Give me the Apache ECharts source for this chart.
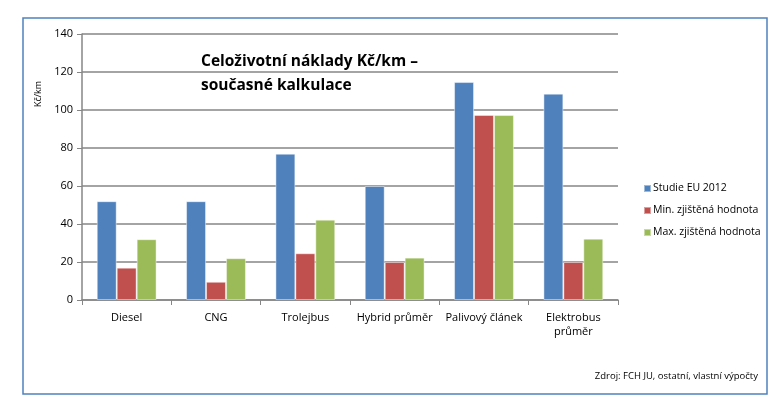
<!DOCTYPE html>
<html><head><meta charset="utf-8">
<script src="https://cdn.jsdelivr.net/npm/echarts@6/dist/echarts.min.js"></script>
<style>html,body{margin:0;padding:0;background:#fff}#c{width:784px;height:419px}</style>
</head><body><div id="c"></div>
<script>
const categories = ['Diesel', 'CNG', 'Trolejbus', 'Hybrid průměr', 'Palivový článek', 'Elektrobus\nprůměr'];
const seriesNames = ['Studie EU 2012', 'Min. zjištěná hodnota', 'Max. zjištěná hodnota'];
const studieEU = [52, 52, 77, 60, 114.7, 108.6];
const minHodnota = [17, 9.6, 24.6, 20, 97.4, 20];
const maxHodnota = [32, 22, 42.3, 22.3, 97.4, 32.3];
const yTicks = [0, 20, 40, 60, 80, 100, 120, 140];
const colors = ['#4F81BD', '#C0504D', '#9BBB59'];
const font = 'Open Sans';

const chart = echarts.init(document.getElementById('c'));
const values = [studieEU, minHodnota, maxHodnota];
chart.setOption({
  animation: false,
  textStyle: { fontFamily: font },
  grid: { left: 82, right: 166, top: 34, bottom: 119 },
  title: {
    text: 'Celoživotní náklady Kč/km –\nsoučasné kalkulace',
    left: 196, top: 45,
    textStyle: { fontFamily: font, fontSize: 15.5, fontWeight: 'bold', color: '#000', lineHeight: 24 }
  },
  legend: {
    orient: 'vertical', left: 638, top: 178,
    itemWidth: 7, itemHeight: 7, itemGap: 11,
    icon: 'rect',
    textStyle: { fontFamily: font, fontSize: 10.5, color: '#000', padding: [0, 0, 0, -3] },
    data: seriesNames
  },
  xAxis: {
    type: 'category', data: categories,
    axisLine: { lineStyle: { color: '#868686', width: 1.5 } },
    axisTick: { show: true, length: 5, lineStyle: { color: '#868686' } },
    axisLabel: { color: '#000', fontSize: 11, margin: 11, lineHeight: 14, interval: 0 }
  },
  yAxis: {
    type: 'value', min: 0, max: 140, interval: 20,
    axisLine: { show: true, lineStyle: { color: '#868686', width: 1.5 } },
    axisTick: { show: true, length: 5, inside: false, lineStyle: { color: '#868686' } },
    axisLabel: { color: '#000', fontSize: 11, margin: 9, formatter: v => yTicks.includes(v) ? String(v) : '' },
    splitLine: { lineStyle: { color: '#868686', width: 1.5 } }
  },
  series: seriesNames.map((n, i) => ({
    name: n, type: 'bar', data: values[i],
    barGap: '0%', barCategoryGap: '33%',
    itemStyle: { color: colors[i], borderColor: 'rgba(255,255,255,0.45)', borderWidth: 1 }
  })),
  graphic: [
    { type: 'rect', shape: { x: 23, y: 18, width: 744, height: 376 }, style: { fill: 'none', stroke: '#4F81BD', lineWidth: 1.5 }, z: 100 },
    { type: 'text', x: 38, y: 94, rotation: Math.PI / 2, style: { text: 'Kč/km', fontFamily: font, fontSize: 9, fill: '#000', align: 'center', verticalAlign: 'middle' } },
    { type: 'text', right: 26, top: 371, style: { text: 'Zdroj: FCH JU, ostatní, vlastní výpočty', fontFamily: font, fontSize: 9.5, fill: '#000' } }
  ]
});
</script></body></html>
